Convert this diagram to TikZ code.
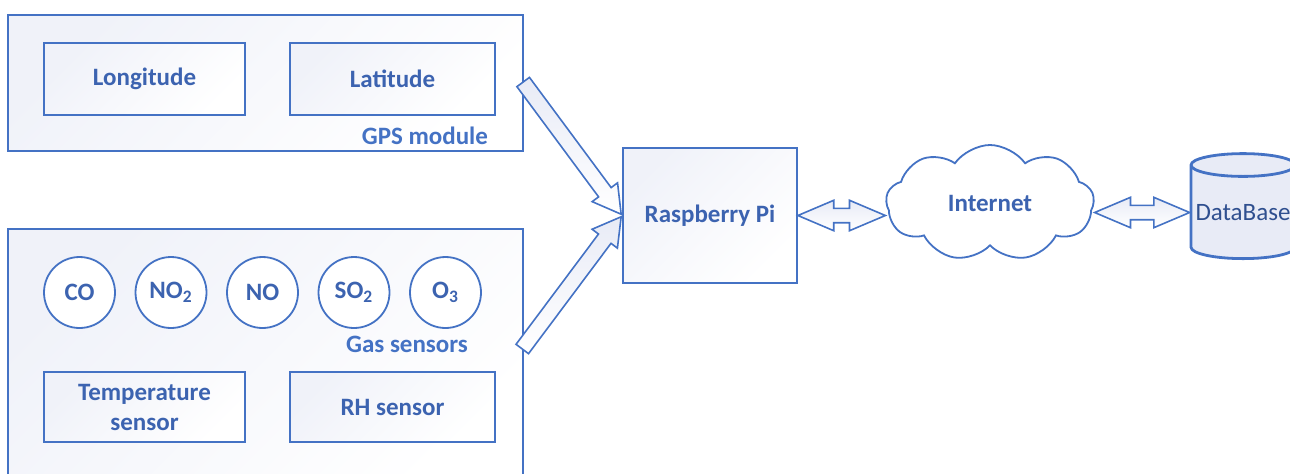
\documentclass[tikz,border=0pt]{standalone}
\usepackage{fontspec}
\setmainfont{Carlito}
\usetikzlibrary{shapes.arrows,shapes.symbols,shapes.geometric,calc}
\definecolor{lineblue}{HTML}{4472C4}
\definecolor{textblue}{HTML}{3C63B0}
\definecolor{dbtext}{HTML}{2F4F8F}
\definecolor{tint}{HTML}{E8EBF6}
\definecolor{paletint}{HTML}{F0F2F9}

\begin{document}
\begin{tikzpicture}[x=0.5pt,y=-0.5pt,
  every node/.style={font=\fontsize{12.5}{15}\selectfont\bfseries, text=textblue},
  panel/.style={draw=lineblue, line width=0.9pt, top color=paletint, bottom color=white, shading angle=45, inner sep=0pt},
  sensor/.style={panel, minimum height=36pt},
  gas/.style={circle, draw=lineblue, line width=0.9pt, fill=white, minimum size=35.5pt, inner sep=0pt},
  caption/.style={anchor=east, text=lineblue},
  blockarrow/.style={single arrow, draw=lineblue, line width=0.8pt, top color=tint, bottom color=white, inner xsep=0pt, inner ysep=3.5pt, single arrow head extend=4pt, single arrow tip angle=60, anchor=tip},
  dblarrow/.style={double arrow, draw=lineblue, line width=0.8pt, top color=tint, bottom color=white, inner xsep=0pt, inner ysep=3.2pt, double arrow head extend=4pt, double arrow tip angle=46}
]
\useasboundingbox (0,0) rectangle (1290,473);
\clip (0,0) rectangle (1290,473);

% GPS part
\node [panel, minimum width=257.5pt, minimum height=68pt] (gps) at (265.5,83) {};
\node [sensor, minimum width=100.5pt] (lon) at (144.5,79) {Longitude};
\node [sensor, minimum width=102.5pt] (lat) at (392.5,79) {Latitude};
\node [caption] (gpslbl) at (495,136) {GPS module};

% sensor part
\node [panel, minimum width=257.5pt, minimum height=130pt] (sens) at (265.5,359) {};
\node [gas] (co) at (79.5,292.5) {CO};
\node [gas] (no2) at (171,292.5) {NO\textsubscript{2}};
\node [gas] (no) at (262.5,292.5) {NO};
\node [gas] (so2) at (354,292.5) {SO\textsubscript{2}};
\node [gas] (o3) at (445.5,292.5) {O\textsubscript{3}};
\node [caption] (gaslbl) at (475,344) {Gas sensors};
\node [sensor, minimum width=100.5pt, minimum height=35pt, align=center] (temp) at (144.5,407) {Temperature\\sensor};
\node [sensor, minimum width=102.5pt, minimum height=35pt] (rh) at (392.5,407) {RH sensor};
\coordinate (gasout) at (523,348);

% right side
\node [panel, minimum width=87pt, minimum height=67.5pt] (pi) at (710,215.5) {Raspberry Pi};
\node [cloud, cloud puffs=9, cloud puff arc=110, cloud ignores aspect, draw=lineblue, line width=0.9pt, fill=white, minimum width=104pt, minimum height=58pt] (net) at (990,203) {Internet};
\node [cylinder, shape border rotate=90, aspect=0.24, draw=lineblue, line width=1.4pt, fill=tint, minimum width=52pt, minimum height=52.5pt, inner sep=0pt, font=\fontsize{12.5}{15}\selectfont, text=dbtext] (db) at (1243,212.5) {DataBase};

% arrows
\path let \p1=($(pi.west)-(gps.east)$), \n1={veclen(\x1,\y1)}, \n2={atan2(\y1,\x1)} in
  node [blockarrow, minimum height=\n1, rotate=\n2] (gpsarrow) at (pi.west) {};
\path let \p1=($(pi.west)-(gasout)$), \n1={veclen(\x1,\y1)}, \n2={atan2(\y1,\x1)} in
  node [blockarrow, minimum height=\n1, rotate=\n2] (gasarrow) at (pi.west) {};
\path let \p1=($(pi.east -| net.west)-(pi.east)$), \n1={veclen(\x1,\y1)} in
  node [dblarrow, minimum height=\n1] (pinet) at ($(pi.east)!0.5!(pi.east -| net.west)$) {};
\path let \p1=($(db.west)-(net.east |- db.west)$), \n1={veclen(\x1,\y1)} in
  node [dblarrow, minimum height=\n1] (netdb) at ($(net.east |- db.west)!0.5!(db.west)$) {};
\end{tikzpicture}
\end{document}
